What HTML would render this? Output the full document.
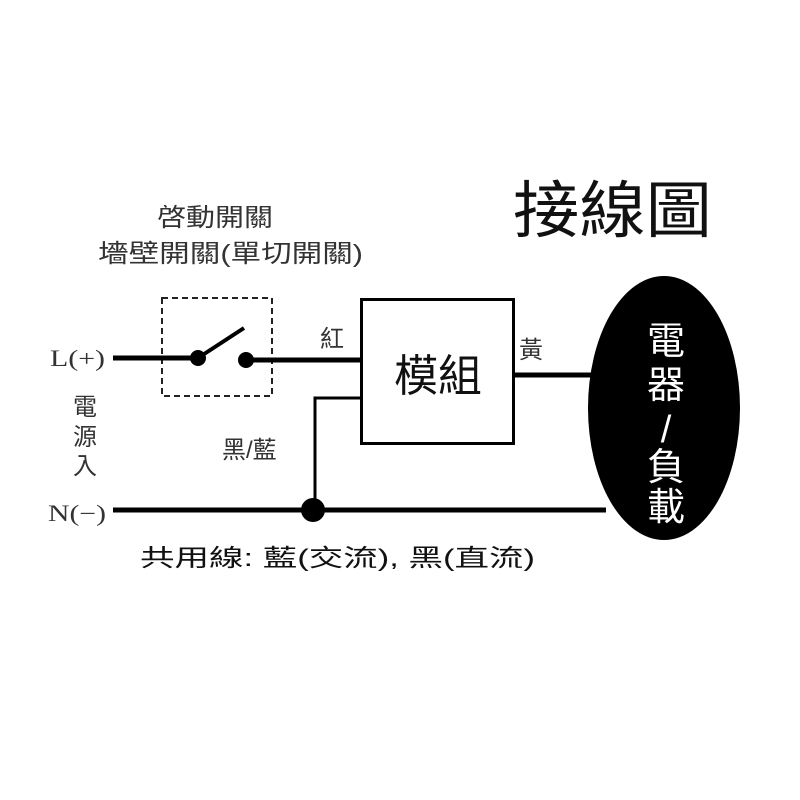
<!DOCTYPE html>
<html><head><meta charset="utf-8"><style>
html,body{margin:0;padding:0;background:#fff;}
svg{display:block;}
</style></head><body>
<svg width="800" height="800" viewBox="0 0 800 800" xmlns="http://www.w3.org/2000/svg" font-family="Liberation Sans, Noto Sans CJK TC, sans-serif">
<rect width="800" height="800" fill="#fff"/>
<text x="513" y="232" font-size="62" fill="#111" textLength="199" lengthAdjust="spacingAndGlyphs">接線圖</text>
<text x="157" y="226" font-size="25" textLength="116" lengthAdjust="spacingAndGlyphs" fill="#333">啓動開關</text>
<text x="98" y="262" font-size="25" textLength="265" lengthAdjust="spacingAndGlyphs" fill="#333">墻壁開關(單切開關)</text>
<rect x="162" y="298" width="110" height="98" fill="none" stroke="#222" stroke-width="2" stroke-dasharray="6,4"/>
<line x1="113" y1="358" x2="198" y2="358" stroke="#000" stroke-width="5"/>
<line x1="198" y1="358" x2="244" y2="328" stroke="#000" stroke-width="4"/>
<circle cx="198" cy="358" r="8" fill="#000"/>
<circle cx="246" cy="360" r="8" fill="#000"/>
<line x1="246" y1="360" x2="362" y2="360" stroke="#000" stroke-width="5"/>
<text x="320" y="347" font-size="24" fill="#333">紅</text>
<text x="50" y="366" font-size="23" fill="#333" style="font-family:'Liberation Serif',serif" textLength="55" lengthAdjust="spacingAndGlyphs">L(+)</text>
<text x="48" y="521" font-size="23" fill="#333" style="font-family:'Liberation Serif',serif" textLength="58" lengthAdjust="spacingAndGlyphs">N(−)</text>
<text x="73" y="415" font-size="24" fill="#333">電</text>
<text x="73" y="445" font-size="24" fill="#333">源</text>
<text x="73" y="474" font-size="24" fill="#333">入</text>
<rect x="361.5" y="299.5" width="152" height="144" fill="#fff" stroke="#000" stroke-width="3"/>
<text x="394" y="391" font-size="44" fill="#111">模組</text>
<polyline points="361,398 315,398 315,510" fill="none" stroke="#000" stroke-width="3"/>
<text x="222" y="458" font-size="24" fill="#333">黑/藍</text>
<line x1="113" y1="510" x2="606" y2="510" stroke="#000" stroke-width="5"/>
<circle cx="313" cy="510" r="12" fill="#000"/>
<line x1="514" y1="375" x2="600" y2="375" stroke="#000" stroke-width="5"/>
<text x="519" y="358" font-size="24" fill="#333">黃</text>
<ellipse cx="664" cy="408" rx="76" ry="132" fill="#000"/>
<g font-size="38" text-anchor="middle" fill="#fff">
<text x="666" y="354">電</text>
<text x="666" y="398">器</text>
<text x="666" y="442">/</text>
<text x="666" y="480">負</text>
<text x="666" y="520">載</text>
</g>
<text x="140" y="566" font-size="24" fill="#111" textLength="395" lengthAdjust="spacingAndGlyphs">共用線: 藍(交流), 黑(直流)</text>
</svg>
</body></html>
